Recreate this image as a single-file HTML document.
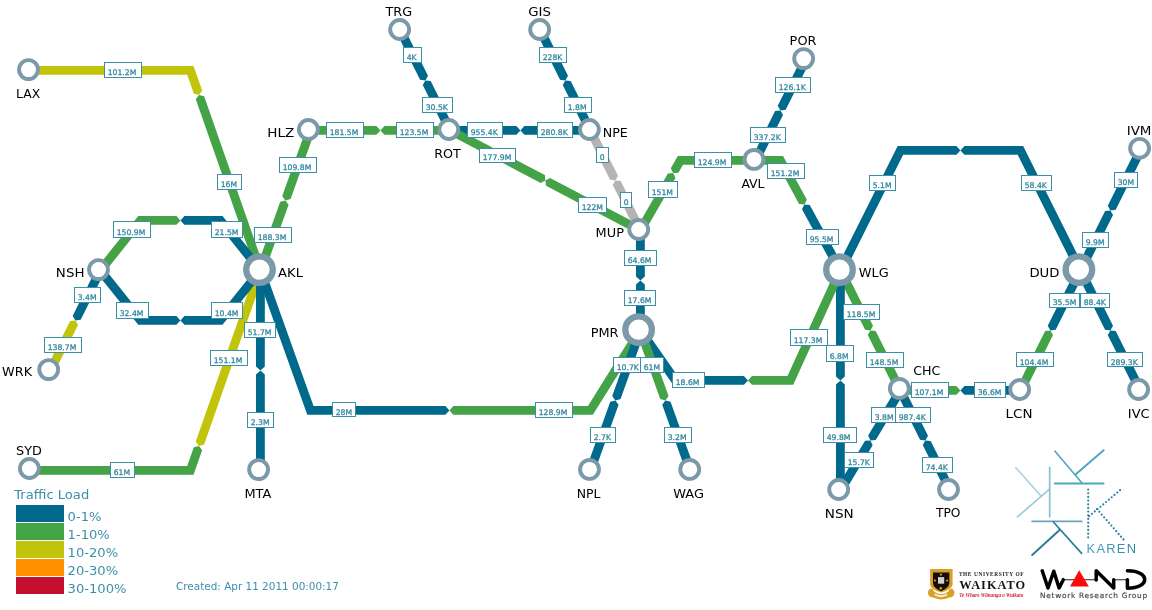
<!DOCTYPE html>
<html lang="en"><head><meta charset="utf-8"><title>KAREN Weathermap</title>
<style>
html,body{margin:0;padding:0;background:#fff;}
body{width:1152px;height:610px;overflow:hidden;}
svg{display:block;will-change:transform;}
text{font-family:"DejaVu Sans","Liberation Sans",sans-serif;}
.nl{font-size:12px;fill:#000;}
.bl{font-size:7.7px;fill:#33889f;stroke:#33889f;stroke-width:.3px;}
.lg{font-size:13.1px;fill:#3c8fa9;}
.bx{fill:#fff;stroke:#3c8fa9;stroke-width:1;}
</style></head><body>
<svg width="1152" height="610" viewBox="0 0 1152 610">
<rect width="1152" height="610" fill="#fff"/>
<g id="links">
<polygon points="30.4,74.83 187.26,74.83 193.8,93.52 198.97,94.89 202.16,90.6 193.54,65.98 30.4,65.98" fill="#c2c40b"/>
<polygon points="264.58,268.94 204.14,96.26 198.97,94.89 195.79,99.18 256.22,271.86" fill="#45a347"/>
<polygon points="30.4,474.82 193.54,474.82 202.16,450.2 198.97,445.91 193.8,447.28 187.26,465.97 30.4,465.97" fill="#45a347"/>
<polygon points="256.22,268.94 195.79,441.62 198.97,445.91 204.14,444.54 264.58,271.86" fill="#c2c40b"/>
<polygon points="306.23,128.91 282.24,196.09 285.4,200.4 290.58,199.06 314.57,131.89" fill="#45a347"/>
<polygon points="264.57,271.89 288.56,204.71 285.4,200.4 280.22,201.74 256.23,268.91" fill="#45a347"/>
<polygon points="310.4,134.83 376.4,134.83 380.4,130.4 376.4,125.98 310.4,125.98" fill="#45a347"/>
<polygon points="450.4,125.98 384.4,125.98 380.4,130.4 384.4,134.83 450.4,134.83" fill="#45a347"/>
<polygon points="396.44,32.38 420.1,79.7 425.4,80.4 428.02,75.74 404.36,28.42" fill="#00698c"/>
<polygon points="454.36,128.42 430.7,81.1 425.4,80.4 422.78,85.06 446.44,132.38" fill="#00698c"/>
<polygon points="536.44,32.38 560.1,79.7 565.4,80.4 568.02,75.74 544.36,28.42" fill="#00698c"/>
<polygon points="594.36,128.42 570.7,81.1 565.4,80.4 562.78,85.06 586.44,132.38" fill="#00698c"/>
<polygon points="450.4,134.83 516.4,134.83 520.4,130.4 516.4,125.98 450.4,125.98" fill="#00698c"/>
<polygon points="590.4,125.98 524.4,125.98 520.4,130.4 524.4,134.83 590.4,134.83" fill="#00698c"/>
<polygon points="448.34,134.32 540.68,182.92 545.4,180.4 544.81,175.09 452.46,126.48" fill="#45a347"/>
<polygon points="642.46,226.48 550.12,177.88 545.4,180.4 545.99,185.71 638.34,234.32" fill="#45a347"/>
<polygon points="586.44,132.38 610.1,179.7 615.4,180.4 618.02,175.74 594.36,128.42" fill="#b4b4b4"/>
<polygon points="644.36,228.42 620.7,181.1 615.4,180.4 612.78,185.06 636.44,232.38" fill="#b4b4b4"/>
<polygon points="644.24,232.6 675.49,177.91 673.14,173.11 667.81,173.52 636.56,228.2" fill="#45a347"/>
<polygon points="755.4,155.97 677.83,155.97 670.78,168.31 673.14,173.11 678.47,172.7 682.97,164.83 755.4,164.83" fill="#45a347"/>
<polygon points="801.44,58.42 777.78,105.74 780.4,110.4 785.7,109.7 809.36,62.38" fill="#00698c"/>
<polygon points="759.36,162.38 783.02,115.06 780.4,110.4 775.1,111.1 751.44,158.42" fill="#00698c"/>
<polygon points="755.4,164.83 777.77,164.83 799.09,203.91 804.41,204.43 806.86,199.67 783.03,155.97 755.4,155.97" fill="#45a347"/>
<polygon points="844.28,268.28 809.74,204.94 804.41,204.43 801.97,209.18 836.52,272.52" fill="#00698c"/>
<polygon points="844.36,272.38 903.13,154.83 956.4,154.83 960.4,150.4 956.4,145.97 897.67,145.97 836.44,268.42" fill="#00698c"/>
<polygon points="1084.36,268.42 1023.13,145.97 964.4,145.97 960.4,150.4 964.4,154.83 1017.67,154.83 1076.44,272.38" fill="#00698c"/>
<polygon points="1136.44,148.42 1107.78,205.74 1110.4,210.4 1115.7,209.7 1144.36,152.38" fill="#00698c"/>
<polygon points="1084.36,272.38 1113.02,215.06 1110.4,210.4 1105.1,211.1 1076.44,268.42" fill="#00698c"/>
<polygon points="1076.44,268.42 1047.78,325.74 1050.4,330.4 1055.7,329.7 1084.36,272.38" fill="#00698c"/>
<polygon points="1024.36,392.38 1053.02,335.06 1050.4,330.4 1045.1,331.1 1016.44,388.42" fill="#45a347"/>
<polygon points="1076.44,272.38 1105.1,329.7 1110.4,330.4 1113.02,325.74 1084.36,268.42" fill="#00698c"/>
<polygon points="1144.36,388.42 1115.7,331.1 1110.4,330.4 1107.78,335.06 1136.44,392.38" fill="#00698c"/>
<polygon points="900.4,394.82 956.4,394.82 960.4,390.4 956.4,385.97 900.4,385.97" fill="#45a347"/>
<polygon points="1020.4,385.97 964.4,385.97 960.4,390.4 964.4,394.82 1020.4,394.82" fill="#00698c"/>
<polygon points="836.44,272.38 865.1,329.7 870.4,330.4 873.02,325.74 844.36,268.42" fill="#45a347"/>
<polygon points="904.36,388.42 875.7,331.1 870.4,330.4 867.78,335.06 896.44,392.38" fill="#45a347"/>
<polygon points="835.98,270.4 835.98,376.4 840.4,380.4 844.82,376.4 844.82,270.4" fill="#00698c"/>
<polygon points="844.82,490.4 844.82,384.4 840.4,380.4 835.98,384.4 835.98,490.4" fill="#00698c"/>
<polygon points="896.61,388.12 868.15,435.55 870.4,440.4 875.74,440.1 904.19,392.68" fill="#00698c"/>
<polygon points="844.19,492.68 872.65,445.25 870.4,440.4 865.06,440.7 836.61,488.12" fill="#00698c"/>
<polygon points="896.44,392.38 920.1,439.7 925.4,440.4 928.02,435.74 904.36,388.42" fill="#00698c"/>
<polygon points="954.36,488.42 930.7,441.1 925.4,440.4 922.78,445.06 946.44,492.38" fill="#00698c"/>
<polygon points="636.77,332.94 673.1,384.82 743.96,384.82 747.96,380.4 743.96,375.97 677.7,375.97 644.03,327.86" fill="#00698c"/>
<polygon points="836.37,268.57 787.55,375.97 751.96,375.97 747.96,380.4 751.96,384.82 793.25,384.82 844.43,272.23" fill="#45a347"/>
<polygon points="256.23,271.89 307.28,414.82 445.39,414.82 449.39,410.4 445.39,405.97 313.52,405.97 264.57,268.91" fill="#00698c"/>
<polygon points="636.65,328.05 587.95,405.97 453.39,405.97 449.39,410.4 453.39,414.82 592.85,414.82 644.15,332.75" fill="#45a347"/>
<polygon points="635.98,230.4 635.98,276.4 640.4,280.4 644.82,276.4 644.82,230.4" fill="#00698c"/>
<polygon points="644.82,330.4 644.82,284.4 640.4,280.4 635.98,284.4 635.98,330.4" fill="#00698c"/>
<polygon points="636.23,328.91 612.24,396.09 615.4,400.4 620.58,399.06 644.57,331.89" fill="#00698c"/>
<polygon points="594.57,471.89 618.56,404.71 615.4,400.4 610.22,401.74 586.23,468.91" fill="#00698c"/>
<polygon points="636.23,331.89 660.22,399.06 665.4,400.4 668.56,396.09 644.57,328.91" fill="#45a347"/>
<polygon points="694.57,468.91 670.58,401.74 665.4,400.4 662.24,404.71 686.23,471.89" fill="#00698c"/>
<polygon points="255.97,270.4 255.97,366.4 260.4,370.4 264.82,366.4 264.82,270.4" fill="#00698c"/>
<polygon points="264.82,470.4 264.82,374.4 260.4,370.4 255.97,374.4 255.97,470.4" fill="#00698c"/>
<polygon points="103.86,273.16 142.53,224.83 176.4,224.83 180.4,220.4 176.4,215.97 138.27,215.97 96.94,267.64" fill="#45a347"/>
<polygon points="263.86,267.64 222.53,215.97 184.4,215.97 180.4,220.4 184.4,224.83 218.27,224.83 256.94,273.16" fill="#00698c"/>
<polygon points="96.94,273.16 138.27,324.82 176.4,324.82 180.4,320.4 176.4,315.97 142.53,315.97 103.86,267.64" fill="#00698c"/>
<polygon points="256.94,267.64 218.27,315.97 184.4,315.97 180.4,320.4 184.4,324.82 222.53,324.82 263.86,273.16" fill="#00698c"/>
<polygon points="96.44,268.42 72.78,315.74 75.4,320.4 80.7,319.7 104.36,272.38" fill="#00698c"/>
<polygon points="54.36,372.38 78.02,325.06 75.4,320.4 70.1,321.1 46.44,368.42" fill="#c2c40b"/>
</g>
<g id="bwlabels">
<rect class="bx" x="104.5" y="62.5" width="37" height="15"/>
<text class="bl" x="107.7" y="75">101.2M</text>
<rect class="bx" x="217.5" y="174.5" width="24" height="15"/>
<text class="bl" x="220.7" y="187">16M</text>
<rect class="bx" x="110.5" y="462.5" width="24" height="15"/>
<text class="bl" x="113.7" y="475">61M</text>
<rect class="bx" x="210.5" y="350.5" width="37" height="15"/>
<text class="bl" x="213.7" y="363">151.1M</text>
<rect class="bx" x="279.5" y="157.5" width="37" height="15"/>
<text class="bl" x="282.7" y="170">109.8M</text>
<rect class="bx" x="254.5" y="227.5" width="37" height="15"/>
<text class="bl" x="257.7" y="240">188.3M</text>
<rect class="bx" x="326.5" y="122.5" width="37" height="15"/>
<text class="bl" x="329.7" y="135">181.5M</text>
<rect class="bx" x="396.5" y="122.5" width="37" height="15"/>
<text class="bl" x="399.7" y="135">123.5M</text>
<rect class="bx" x="403.5" y="47.5" width="18" height="15"/>
<text class="bl" x="406.7" y="60">4K</text>
<rect class="bx" x="422.5" y="97.5" width="30" height="15"/>
<text class="bl" x="425.7" y="110">30.5K</text>
<rect class="bx" x="539.5" y="47.5" width="27" height="15"/>
<text class="bl" x="542.7" y="60">228K</text>
<rect class="bx" x="564.5" y="97.5" width="27" height="15"/>
<text class="bl" x="567.7" y="110">1.8M</text>
<rect class="bx" x="467.5" y="122.5" width="35" height="15"/>
<text class="bl" x="470.7" y="135">955.4K</text>
<rect class="bx" x="537.5" y="122.5" width="35" height="15"/>
<text class="bl" x="540.7" y="135">280.8K</text>
<rect class="bx" x="479.5" y="148.5" width="36" height="14"/>
<text class="bl" x="482.7" y="160">177.9M</text>
<rect class="bx" x="578.5" y="197.5" width="28" height="15"/>
<text class="bl" x="581.7" y="210">122M</text>
<rect class="bx" x="596.5" y="147.5" width="12" height="15"/>
<text class="bl" x="599.7" y="160">0</text>
<rect class="bx" x="620.5" y="192.5" width="11" height="15"/>
<text class="bl" x="623.7" y="205">0</text>
<rect class="bx" x="648.5" y="181.5" width="29" height="16"/>
<text class="bl" x="651.7" y="195">151M</text>
<rect class="bx" x="694.5" y="152.5" width="37" height="15"/>
<text class="bl" x="697.7" y="165">124.9M</text>
<rect class="bx" x="775.5" y="77.5" width="35" height="15"/>
<text class="bl" x="778.7" y="90">126.1K</text>
<rect class="bx" x="750.5" y="127.5" width="35" height="15"/>
<text class="bl" x="753.7" y="140">337.2K</text>
<rect class="bx" x="767.5" y="163.5" width="37" height="15"/>
<text class="bl" x="770.7" y="176">151.2M</text>
<rect class="bx" x="806.5" y="229.5" width="32" height="15"/>
<text class="bl" x="809.7" y="242">95.5M</text>
<rect class="bx" x="869.5" y="175.5" width="26" height="15"/>
<text class="bl" x="872.7" y="188">5.1M</text>
<rect class="bx" x="1021.5" y="175.5" width="30" height="15"/>
<text class="bl" x="1024.7" y="188">58.4K</text>
<rect class="bx" x="1114.5" y="172.5" width="23" height="15"/>
<text class="bl" x="1117.7" y="185">30M</text>
<rect class="bx" x="1082.5" y="232.5" width="26" height="15"/>
<text class="bl" x="1085.7" y="245">9.9M</text>
<rect class="bx" x="1049.5" y="293.5" width="30" height="14"/>
<text class="bl" x="1052.7" y="305">35.5M</text>
<rect class="bx" x="1016.5" y="352.5" width="37" height="14"/>
<text class="bl" x="1019.7" y="365">104.4M</text>
<rect class="bx" x="1080.5" y="293.5" width="29" height="14"/>
<text class="bl" x="1083.7" y="305">88.4K</text>
<rect class="bx" x="1107.5" y="352.5" width="35" height="14"/>
<text class="bl" x="1110.7" y="365">289.3K</text>
<rect class="bx" x="911.5" y="382.5" width="37" height="15"/>
<text class="bl" x="914.7" y="395">107.1M</text>
<rect class="bx" x="974.5" y="382.5" width="31" height="15"/>
<text class="bl" x="977.7" y="395">36.6M</text>
<rect class="bx" x="843.5" y="304.5" width="36" height="15"/>
<text class="bl" x="846.7" y="317">118.5M</text>
<rect class="bx" x="866.5" y="352.5" width="37" height="15"/>
<text class="bl" x="869.7" y="365">148.5M</text>
<rect class="bx" x="826.5" y="345.5" width="27" height="16"/>
<text class="bl" x="829.7" y="359">6.8M</text>
<rect class="bx" x="823.5" y="427.5" width="33" height="15"/>
<text class="bl" x="826.7" y="440">49.8M</text>
<rect class="bx" x="871.5" y="407.5" width="27" height="15"/>
<text class="bl" x="874.7" y="420">3.8M</text>
<rect class="bx" x="844.5" y="452.5" width="29" height="15"/>
<text class="bl" x="847.7" y="465">15.7K</text>
<rect class="bx" x="895.5" y="407.5" width="35" height="15"/>
<text class="bl" x="898.7" y="420">987.4K</text>
<rect class="bx" x="922.5" y="457.5" width="30" height="15"/>
<text class="bl" x="925.7" y="470">74.4K</text>
<rect class="bx" x="672.5" y="372.5" width="32" height="15"/>
<text class="bl" x="675.7" y="385">18.6M</text>
<rect class="bx" x="790.5" y="329.5" width="37" height="16"/>
<text class="bl" x="793.7" y="343">117.3M</text>
<rect class="bx" x="332.5" y="402.5" width="23" height="14"/>
<text class="bl" x="335.7" y="415">28M</text>
<rect class="bx" x="535.5" y="402.5" width="37" height="15"/>
<text class="bl" x="538.7" y="415">128.9M</text>
<rect class="bx" x="624.5" y="250.5" width="32" height="15"/>
<text class="bl" x="627.7" y="263">64.6M</text>
<rect class="bx" x="624.5" y="290.5" width="31" height="15"/>
<text class="bl" x="627.7" y="303">17.6M</text>
<rect class="bx" x="613.5" y="357.5" width="29" height="15"/>
<text class="bl" x="616.7" y="370">10.7K</text>
<rect class="bx" x="590.5" y="427.5" width="25" height="15"/>
<text class="bl" x="593.7" y="440">2.7K</text>
<rect class="bx" x="640.5" y="357.5" width="23" height="15"/>
<text class="bl" x="643.7" y="370">61M</text>
<rect class="bx" x="664.5" y="427.5" width="27" height="15"/>
<text class="bl" x="667.7" y="440">3.2M</text>
<rect class="bx" x="244.5" y="322.5" width="31" height="15"/>
<text class="bl" x="247.7" y="335">51.7M</text>
<rect class="bx" x="247.5" y="412.5" width="26" height="15"/>
<text class="bl" x="250.7" y="425">2.3M</text>
<rect class="bx" x="113.5" y="221.5" width="37" height="16"/>
<text class="bl" x="116.7" y="235">150.9M</text>
<rect class="bx" x="211.5" y="221.5" width="31" height="16"/>
<text class="bl" x="214.7" y="235">21.5M</text>
<rect class="bx" x="116.5" y="302.5" width="32" height="16"/>
<text class="bl" x="119.7" y="316">32.4M</text>
<rect class="bx" x="211.5" y="302.5" width="31" height="16"/>
<text class="bl" x="214.7" y="316">10.4M</text>
<rect class="bx" x="74.5" y="287.5" width="26" height="15"/>
<text class="bl" x="77.7" y="300">3.4M</text>
<rect class="bx" x="44.5" y="337.5" width="37" height="15"/>
<text class="bl" x="47.7" y="350">138.7M</text>
</g>
<g id="nodes">
<circle cx="28.5" cy="69.6" r="9.45" fill="#fff" stroke="#7b99a8" stroke-width="3.9"/>
<circle cx="399.65" cy="29.5" r="9.45" fill="#fff" stroke="#7b99a8" stroke-width="3.9"/>
<circle cx="539.65" cy="29.5" r="9.45" fill="#fff" stroke="#7b99a8" stroke-width="3.9"/>
<circle cx="803.65" cy="58.6" r="9.45" fill="#fff" stroke="#7b99a8" stroke-width="3.9"/>
<circle cx="308.4" cy="129.5" r="9.45" fill="#fff" stroke="#7b99a8" stroke-width="3.9"/>
<circle cx="448.8" cy="129.5" r="9.45" fill="#fff" stroke="#7b99a8" stroke-width="3.9"/>
<circle cx="589.4" cy="129.5" r="9.45" fill="#fff" stroke="#7b99a8" stroke-width="3.9"/>
<circle cx="754" cy="159.4" r="9.45" fill="#fff" stroke="#7b99a8" stroke-width="3.9"/>
<circle cx="1139.6" cy="148.3" r="9.45" fill="#fff" stroke="#7b99a8" stroke-width="3.9"/>
<circle cx="638.7" cy="229.5" r="9.45" fill="#fff" stroke="#7b99a8" stroke-width="3.9"/>
<circle cx="98.5" cy="269.6" r="9.45" fill="#fff" stroke="#7b99a8" stroke-width="3.9"/>
<circle cx="259.5" cy="269.6" r="13.3" fill="#fff" stroke="#7b99a8" stroke-width="6.3"/>
<circle cx="839.5" cy="269.7" r="13.3" fill="#fff" stroke="#7b99a8" stroke-width="6.3"/>
<circle cx="1078.9" cy="269.6" r="13.3" fill="#fff" stroke="#7b99a8" stroke-width="6.3"/>
<circle cx="638.6" cy="329.7" r="13.3" fill="#fff" stroke="#7b99a8" stroke-width="6.3"/>
<circle cx="48.7" cy="369.6" r="9.45" fill="#fff" stroke="#7b99a8" stroke-width="3.9"/>
<circle cx="899.4" cy="388.4" r="9.45" fill="#fff" stroke="#7b99a8" stroke-width="3.9"/>
<circle cx="1019.65" cy="389.5" r="9.45" fill="#fff" stroke="#7b99a8" stroke-width="3.9"/>
<circle cx="1138.6" cy="389.5" r="9.45" fill="#fff" stroke="#7b99a8" stroke-width="3.9"/>
<circle cx="29.4" cy="468.5" r="9.45" fill="#fff" stroke="#7b99a8" stroke-width="3.9"/>
<circle cx="258.6" cy="469.6" r="9.45" fill="#fff" stroke="#7b99a8" stroke-width="3.9"/>
<circle cx="589.5" cy="469.4" r="9.45" fill="#fff" stroke="#7b99a8" stroke-width="3.9"/>
<circle cx="689.7" cy="469.4" r="9.45" fill="#fff" stroke="#7b99a8" stroke-width="3.9"/>
<circle cx="838.7" cy="489.5" r="9.45" fill="#fff" stroke="#7b99a8" stroke-width="3.9"/>
<circle cx="948.5" cy="489.5" r="9.45" fill="#fff" stroke="#7b99a8" stroke-width="3.9"/>
<text class="nl" transform="translate(16.07 97.8) scale(1.037 1)">LAX</text>
<text class="nl" transform="translate(385.45 15.7) scale(1.066 1)">TRG</text>
<text class="nl" transform="translate(528.3 15.7) scale(1.110 1)">GIS</text>
<text class="nl" transform="translate(789.62 44.8) scale(1.073 1)">POR</text>
<text class="nl" transform="translate(267.36 137) scale(1.129 1)">HLZ</text>
<text class="nl" transform="translate(434.14 157.5) scale(1.062 1)">ROT</text>
<text class="nl" transform="translate(602.69 136.8) scale(1.057 1)">NPE</text>
<text class="nl" transform="translate(741.39 187.6) scale(1.038 1)">AVL</text>
<text class="nl" transform="translate(1126.65 134.9) scale(1.125 1)">IVM</text>
<text class="nl" transform="translate(595.62 236.8) scale(1.074 1)">MUP</text>
<text class="nl" transform="translate(55.87 277) scale(1.117 1)">NSH</text>
<text class="nl" transform="translate(278.07 276.9) scale(1.094 1)">AKL</text>
<text class="nl" transform="translate(858.72 276.9) scale(1.076 1)">WLG</text>
<text class="nl" transform="translate(1029.39 276.9) scale(1.103 1)">DUD</text>
<text class="nl" transform="translate(590.67 337) scale(1.074 1)">PMR</text>
<text class="nl" transform="translate(2.12 376.4) scale(1.067 1)">WRK</text>
<text class="nl" transform="translate(913.29 374.7) scale(1.054 1)">CHC</text>
<text class="nl" transform="translate(1005.57 417.9) scale(1.121 1)">LCN</text>
<text class="nl" transform="translate(1127.8 417.9) scale(1.082 1)">IVC</text>
<text class="nl" transform="translate(16 454.6) scale(1.069 1)">SYD</text>
<text class="nl" transform="translate(244.41 497.6) scale(1.081 1)">MTA</text>
<text class="nl" transform="translate(576.66 497.8) scale(1.039 1)">NPL</text>
<text class="nl" transform="translate(673.27 497.8) scale(1.079 1)">WAG</text>
<text class="nl" transform="translate(824.75 517.5) scale(1.134 1)">NSN</text>
<text class="nl" transform="translate(936 517.3) scale(1.021 1)">TPO</text>
</g>
<g id="legend">
<text class="lg" x="14.3" y="499">Traffic Load</text>
<rect x="16" y="505" width="48" height="17" fill="#00698c"/>
<text class="lg" x="67.6" y="521.4">0-1%</text>
<rect x="16" y="523" width="48" height="17" fill="#45a347"/>
<text class="lg" x="67.6" y="539.4">1-10%</text>
<rect x="16" y="541" width="48" height="17" fill="#c2c40b"/>
<text class="lg" x="67.6" y="557.4">10-20%</text>
<rect x="16" y="559" width="48" height="17" fill="#ff9000"/>
<text class="lg" x="67.6" y="575.4">20-30%</text>
<rect x="16" y="577" width="48" height="17" fill="#c4102e"/>
<text class="lg" x="67.6" y="593.4">30-100%</text>
<text x="176" y="589.8" style="font-size:10.45px;fill:#3c8fa9">Created: Apr 11 2011 00:00:17</text>
</g>
<g id="karen" fill="none" stroke-linecap="round">
<defs><linearGradient id="kg" x1="0" x2="1" y1="0" y2="0"><stop offset="0" stop-color="#4fa2bc"/><stop offset="1" stop-color="#2f86a4"/></linearGradient></defs>
<g stroke="#a9d4e3" stroke-width="1.7"><path d="M1015.9 467.7L1040.9 495.9"/><path d="M1017.4 516.8L1049.6 489.2" stroke="#9ccbdc"/><path d="M1049.7 467.4V516.8" stroke="#8cc4d6" stroke-width="1.8"/></g>
<g stroke="#4fa6c0"><path d="M1054.8 483.5H1103.6" stroke-width="1.9"/><path d="M1055 451.2L1082 482.9" stroke-width="1.6"/><path d="M1103.6 450.2L1075.8 474.3" stroke-width="2"/></g>
<g stroke="#2b7d9b"><path d="M1032.2 521.4H1081.6" stroke="#6aa2b9" stroke-width="1.9"/><path d="M1053.4 522L1081.6 553.4" stroke-width="1.7"/><path d="M1059.6 529.9L1032.2 555" stroke-width="2"/></g>
<g stroke="#2a83a2" stroke-width="2.2" stroke-dasharray="0 3.67"><path d="M1088.2 489.6V539.6"/><path d="M1089.2 516.2L1120.8 489.6"/><path d="M1096.9 509L1123.5 539.5"/></g>
<text x="1086.6" y="553.4" fill="url(#kg)" stroke="none" style="font-family:'Liberation Sans',sans-serif;font-size:12.9px;letter-spacing:1.25px">KAREN</text>
</g>
<g id="waikato">
<path d="M930.1 568.9H952.6V584.5Q952 589.5 941.3 592.5Q930.6 589.5 930.1 584.5Z" fill="#d7a128"/>
<path d="M933 572.6H949.3V583.6Q948.8 588 941.1 591.2Q933.4 588 933 583.6Z" fill="#160d06"/>
<rect x="938" y="577.1" width="6.2" height="6.6" fill="#cfcfd2"/>
<g fill="#d7a128"><circle cx="940.9" cy="574.6" r="1.1"/><circle cx="934.9" cy="580.5" r="1.1"/><circle cx="947.1" cy="580.5" r="1.1"/><circle cx="940.8" cy="588.3" r="1.3"/></g>
<path d="M928 593.5Q927.6 589.6 931 588.6Q933.5 589 934 591.5Q941.2 596.5 948.4 591.5Q949 589 951.5 588.6Q954.8 589.6 954.4 593.5Q953.5 597.5 950 597.3Q941.2 601.5 932.4 597.3Q929 597.5 928 593.5Z" fill="#d7a128"/>
<path d="M934.6 593.2Q941.2 597 947.2 593.2L947.2 595.6Q941.2 598.8 934.6 595.6Z" fill="#f4ead0"/>
<text x="958.9" y="576.4" fill="#222" style="font-family:'Liberation Serif',serif;font-weight:bold;font-size:5.4px;letter-spacing:.59px">THE UNIVERSITY OF</text>
<text x="959.2" y="588.7" fill="#151515" style="font-family:'Liberation Serif',serif;font-weight:bold;font-size:12.3px;letter-spacing:1.03px">WAIKATO</text>
<text x="959.3" y="597.4" fill="#cf2038" style="font-family:'Liberation Serif',serif;font-weight:bold;font-style:italic;font-size:5.1px;letter-spacing:0px">Te Whare Wānanga o Waikato</text>
</g>
<g id="wand" fill="none" stroke="#000" stroke-linecap="round" stroke-linejoin="round">
<path d="M1063 579.7H1096M1113.7 579.7H1127.4" stroke-width="1.1" stroke="#222"/>
<path d="M1042.2 570.8L1048 588L1053.8 571.2L1059.1 588L1063.3 579.7" stroke-width="3.5"/>
<path d="M1079.2 570.2L1088.8 586.6H1070Z" fill="#fa0a0a" stroke="none"/>
<path d="M1096.2 580V570.8L1113.7 588V579.7" stroke-width="3.5"/>
<path d="M1127.4 588.2V579.7M1127.4 570.8C1150.5 570.8 1150.5 588.2 1127.4 588.2" stroke-width="3.5"/>
<text x="1040" y="598.2" fill="#4a4a4a" stroke="none" style="font-family:'DejaVu Sans',sans-serif;font-size:7.35px;letter-spacing:.75px;stroke:#4a4a4a;stroke-width:.2px">Network Research Group</text>
</g>

</svg></body></html>
